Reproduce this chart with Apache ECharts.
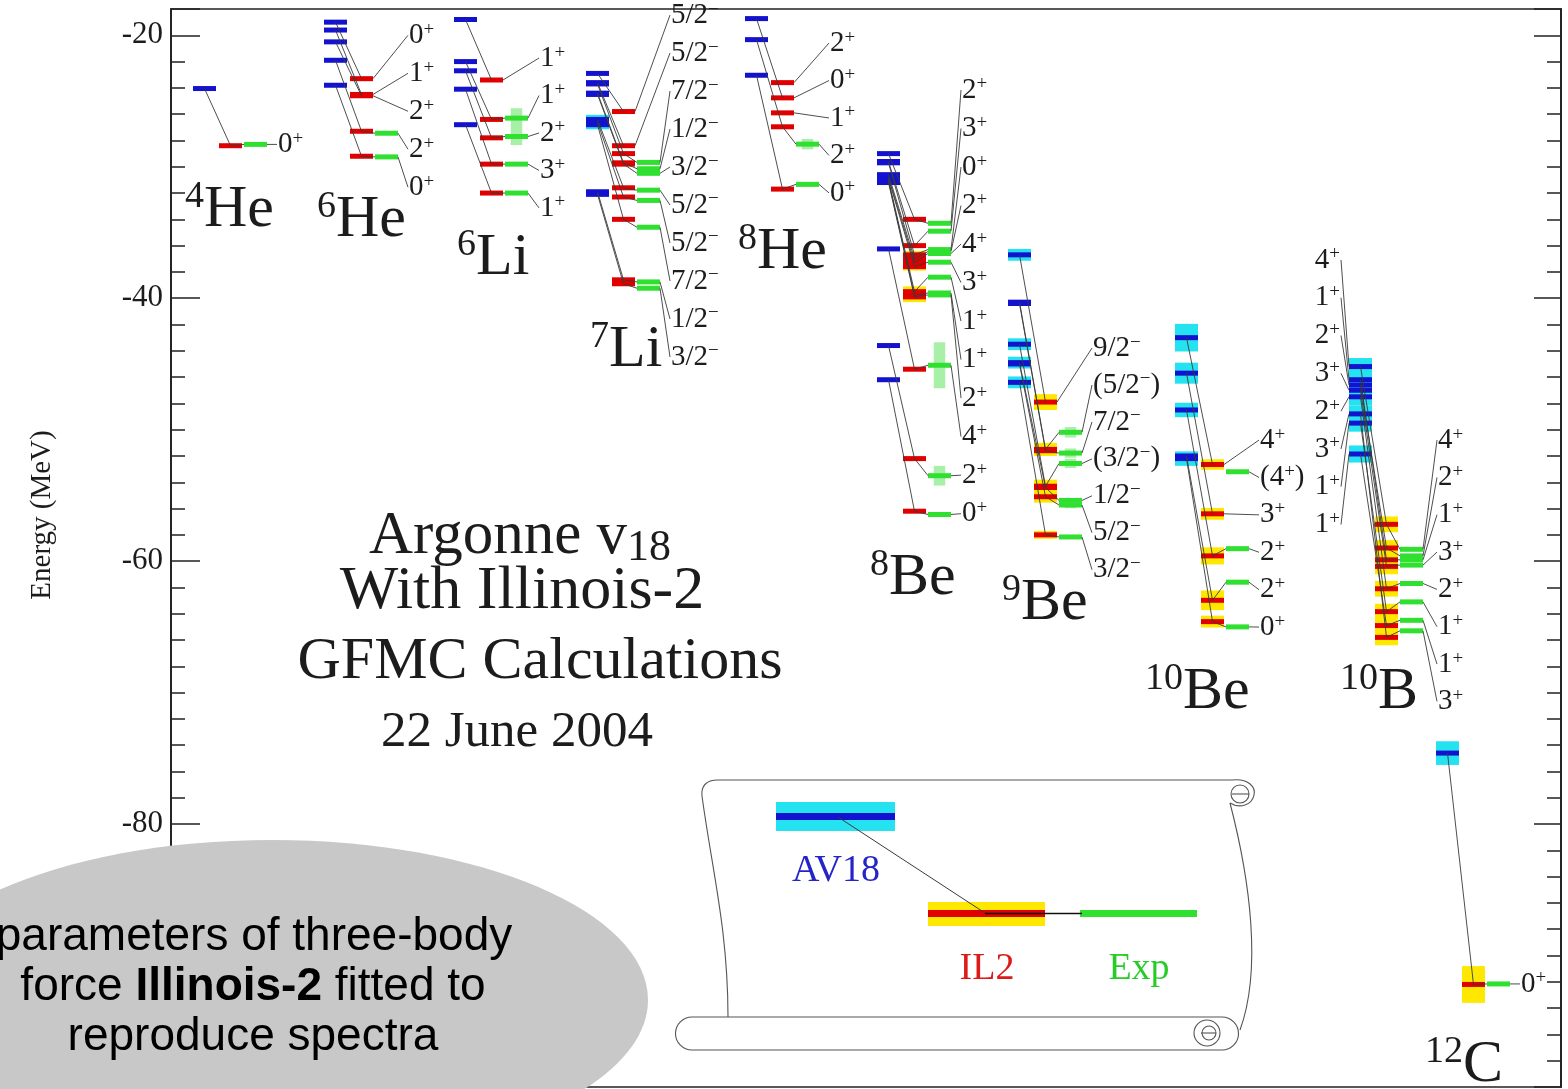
<!DOCTYPE html>
<html>
<head>
<meta charset="utf-8">
<title>Argonne v18 with Illinois-2 GFMC</title>
<script src="https://cdn.jsdelivr.net/npm/echarts@6/dist/echarts.min.js"></script>
<style>
html,body{margin:0;padding:0;background:#ffffff;}
#chart{width:1568px;height:1089px;}
</style>
</head>
<body>
<div id="chart"></div>
<script>
// ================= DATA (energies in MeV) =================
const nuclei = ['4He','6He','6Li','7Li','8He','8Be','9Be','10Be','10B','12C'];
const yMajorTicks = [-20, -40, -60, -80];

// 4He
const he4Labels = ['0+'];
const he4Av18 = [-24.05];
const he4Il2  = [-28.4];
const he4Exp  = [-28.3];

// 6He
const he6Labels = ['0+','1+','2+','2+','0+'];
const he6Av18 = [-19.0, -19.6, -20.5, -21.9, -23.8];
const he6Il2  = [-23.3, -24.5, -24.6, -27.3, -29.2];
const he6Exp  = [null, null, null, -27.45, -29.25];

// 6Li
const li6Labels = ['1+','1+','2+','3+','1+'];
const li6Av18 = [-18.8, -22.0, -22.7, -24.1, -26.8];
const li6Il2  = [-23.4, -26.4, -27.8, -29.8, -32.0];
const li6Exp  = [null, -26.3, -27.7, -29.8, -32.0];
const li6ExpWidth = [0, 1.5, 1.3, 0, 0];

// 7Li
const li7Labels = ['5/2−','5/2−','7/2−','1/2−','3/2−','5/2−','5/2−','7/2−','1/2−','3/2−'];
const li7Av18 = [-22.9, -23.6, -23.7, -24.4, -24.5, -26.4, -26.6, -26.8, -31.9, -32.1];
const li7Av18Err = [0, 0, 0, 0, 0, 0, 0.55, 0, 0, 0];
const li7Il2  = [-25.8, -28.4, -29.0, -29.7, -29.8, -31.6, -32.3, -34.0, -38.6, -38.9];
const li7Exp  = [null, null, -29.67, -30.15, -30.5, -31.78, -32.56, -34.6, -38.76, -39.24];

// 8He
const he8Labels = ['2+','0+','1+','2+','0+'];
const he8Av18 = [null, -18.73, null, -20.33, -23.04];
const he8Il2  = [-23.6, -24.76, -25.9, -26.96, -31.7];
const he8Exp  = [null, null, null, -28.28, -31.34];
const he8ExpWidth = [0, 0, 0, 0.8, 0];

// 8Be
const be8Labels = ['2+','3+','0+','2+','4+','3+','1+','1+','2+','4+','2+','0+'];
const be8Av18 = [-29.0, -29.6, -29.7, -30.6, -30.8, -30.9, -31.0, -31.1, -31.2, -36.25, -43.6, -46.2];
const be8Il2  = [-34.0, -36.0, -36.7, -37.0, -37.3, -37.6, -39.5, -39.8, -39.9, -45.4, -52.2, -56.2];
const be8Il2Err = [0, 0, 0.3, 0, 0, 0.3, 0.4, 0, 0.4, 0, 0, 0];
const be8Exp  = [-34.3, -34.9, -36.3, -36.45, -36.6, -37.26, -38.4, -39.6, -39.75, -45.1, -53.5, -56.45];
const be8ExpWidth = [0, 0, 0, 0, 0, 0, 0, 0, 0, 3.5, 1.5, 0];

// 9Be
const be9Labels = ['9/2−','(5/2−)','7/2−','(3/2−)','1/2−','5/2−','3/2−'];
const be9Av18 = [-36.7, -40.3, -40.4, -43.5, -44.9, -45.0, -46.4];
const be9Av18Err = [0.45, 0, 0, 0.45, 0.45, 0, 0.45];
const be9Il2  = [-47.9, -51.5, -51.6, -54.3, -54.4, -55.1, -58.0];
const be9Il2Err = [0.6, 0.5, 0, 0.5, 0, 0.45, 0.3];
const be9Exp  = [null, -50.2, -51.78, -52.57, -55.38, -55.73, -58.16];
const be9ExpWidth = [0, 0.8, 0.7, 0.7, 0, 0.5, 0];

// 10Be
const be10Labels = ['4+','(4+)','3+','2+','2+','0+'];
const be10Av18 = [-43.0, null, -45.7, -48.5, -52.0, -52.2];
const be10Av18Err = [1.05, 0, 0.8, 0.55, 0, 0.55];
const be10Il2  = [-52.65, null, -56.4, -59.6, -62.98, -64.6];
const be10Il2Err = [0.4, 0, 0.45, 0.65, 0.75, 0.45];
const be10Exp  = [null, -53.2, null, -59.05, -61.6, -65.0];

// 10B
const b10Labels = ['4+','2+','1+','3+','2+','1+','1+','3+'];
const b10Av18 = [-45.2, -46.6, -46.2, -47.0, -47.5, -49.5, -51.85, -48.8];
const b10Av18Err = [0.65, 0.65, 0.65, 0.65, 0.65, 0.65, 0.65, 0.65];
const b10Il2  = [-57.2, -59.0, -59.9, -60.4, -62.1, -63.84, -64.9, -65.8];
const b10Il2Err = [0.6, 0.6, 0.6, 0.6, 0.6, 0.6, 0.6, 0.6];
const b10Exp  = [-59.1, -59.6, -59.9, -60.3, -61.7, -63.1, -64.5, -65.3];

// 12C
const c12Labels = ['0+'];
const c12Av18 = [-74.6];
const c12Av18Err = [0.9];
const c12Il2  = [-92.2];
const c12Il2Err = [1.4];
const c12Exp  = [-92.16];

// ================= LAYOUT (positions only) =================
const colX        = [22, 153, 283, 415, 574, 706, 837, 1004, 1178, 1265]; // x of AV18 column (layout units)
const labelTopE   = [null, -20.0, -21.73, -18.46, -20.59, -24.16, -43.79, -50.79, -50.79, null];
const labelStepE  = [0, 2.89, 2.85, 2.89, 2.85, 2.93, 2.81, 2.845, 2.84, 0];
const labelDX     = [85, 85, 86, 85, 85, 85, 85, 85, 89, 85];
const leftLabelTopE = -37.09, leftLabelStepE = 2.875;  // 10B AV18 labels
const nameX       = [14, 146, 286, 419, 567, 699, 831, 974, 1169, 1254];
const nameCenterE = [-33.29, -34.05, -36.94, -43.94, -36.48, -61.28, -63.18, -69.95, -69.95, -98.33];

const C = {blue:'#1212cf', cyan:'#24e2f0', red:'#e00000', yellow:'#ffe800', green:'#30e030',
           pale:'#a8efa8', line:'#3a3a3a', text:'#1c1c1c', frame:'#222222'};
const SERIF = "'Liberation Serif','Times New Roman',serif";
const SANS = "'Liberation Sans',Arial,sans-serif";
const W = 23, DIL = 26, DEX = 51, BT = 5;

const NUC = [
  {labels:he4Labels, av:he4Av18, il:he4Il2, ex:he4Exp},
  {labels:he6Labels, av:he6Av18, il:he6Il2, ex:he6Exp},
  {labels:li6Labels, av:li6Av18, il:li6Il2, ex:li6Exp, exW:li6ExpWidth},
  {labels:li7Labels, av:li7Av18, il:li7Il2, ex:li7Exp, avErr:li7Av18Err},
  {labels:he8Labels, av:he8Av18, il:he8Il2, ex:he8Exp, exW:he8ExpWidth},
  {labels:be8Labels, av:be8Av18, il:be8Il2, ex:be8Exp, ilErr:be8Il2Err, exW:be8ExpWidth},
  {labels:be9Labels, av:be9Av18, il:be9Il2, ex:be9Exp, avErr:be9Av18Err, ilErr:be9Il2Err, exW:be9ExpWidth},
  {labels:be10Labels, av:be10Av18, il:be10Il2, ex:be10Exp, avErr:be10Av18Err, ilErr:be10Il2Err},
  {labels:b10Labels, av:b10Av18, il:b10Il2, ex:b10Exp, avErr:b10Av18Err, ilErr:b10Il2Err, leftLabels:true},
  {labels:c12Labels, av:c12Av18, il:c12Il2, ex:c12Exp, avErr:c12Av18Err, ilErr:c12Il2Err}
];

function richLabel(s){
  let out = '', buf = '';
  for (const ch of s) {
    if (ch === '+' || ch === '−') { if (buf) { out += '{n|' + buf + '}'; buf = ''; } out += '{s|' + ch + '}'; }
    else buf += ch;
  }
  if (buf) out += '{n|' + buf + '}';
  return out;
}
function richName(s){
  const m = s.match(/^(\d+)(.*)$/);
  return '{s|' + m[1] + '}{m|' + m[2] + '}';
}
const has = v => v !== null && v !== undefined;

const bands = [], bars = [], links = [], texts = [];
NUC.forEach((n, k) => {
  const x = colX[k];
  n.labels.forEach((lab, i) => {
    const av = n.av[i], il = n.il[i], ex = n.ex[i];
    if (has(av)) {
      if (n.avErr && n.avErr[i]) bands.push({x0:x, x1:x+W, e:av, h:n.avErr[i], c:C.cyan});
      bars.push({x0:x, x1:x+W, e:av, c:C.blue});
    }
    if (has(il)) {
      if (n.ilErr && n.ilErr[i]) bands.push({x0:x+DIL, x1:x+DIL+W, e:il, h:n.ilErr[i], c:C.yellow});
      bars.push({x0:x+DIL, x1:x+DIL+W, e:il, c:C.red});
    }
    if (has(ex)) {
      if (n.exW && n.exW[i]) bands.push({x0:x+DEX+W*0.25, x1:x+DEX+W*0.75, e:ex, h:n.exW[i]/2, c:C.pale});
      bars.push({x0:x+DEX, x1:x+DEX+W, e:ex, c:C.green});
    }
    if (has(av) && has(il)) links.push({xa:x+W/2, ea:av, xb:x+DIL+W/2, eb:il});
    if (has(il) && has(ex)) links.push({xa:x+DIL+W/2, ea:il, xb:x+DEX, eb:ex});
    const lastE = has(ex) ? ex : (has(il) ? il : av);
    const lastX = has(ex) ? x+DEX+W : (has(il) ? x+DIL+W : x+W);
    const labE = labelTopE[k] === null ? lastE : labelTopE[k] - i*labelStepE[k];
    const lx = x + labelDX[k];
    if (Math.abs(labE - lastE) > 0.05 || lx - lastX > 6) links.push({xa:lastX, ea:lastE, xb:lx-1, eb:labE});
    texts.push({x:lx, e:labE, t:richLabel(lab), align:'left', kind:'lab'});
  });
  if (n.leftLabels) {
    const order = n.av.map((v, i) => i).sort((a, b) => n.av[b] - n.av[a]);
    order.forEach((si, j) => {
      const e = leftLabelTopE - j*leftLabelStepE;
      links.push({xa:x-8, ea:e, xb:x, eb:n.av[si]});
      texts.push({x:x-9, e:e, t:richLabel(n.labels[si]), align:'right', kind:'lab'});
    });
  }
  texts.push({x:nameX[k], e:nameCenterE[k], t:richName(nuclei[k]), align:'left', kind:'name'});
});

// ================= CHART =================
const chart = echarts.init(document.getElementById('chart'), null, {renderer:'canvas', width:1568, height:1089});

function mkSeries(name, marks, z, render){
  return {type:'custom', name, z, clip:false, silent:true, animation:false,
    xAxisIndex:0, yAxisIndex:0, encode:{x:0, y:1},
    data: marks.map((m, i) => [has(m.x0) ? m.x0 : (has(m.x) ? m.x : m.xa), has(m.e) ? m.e : m.ea, i]),
    renderItem:(params, api) => render(marks[params.dataIndex], api)};
}

const labRich = {
  n:{fontSize:29, fontFamily:SERIF, lineHeight:30, fill:C.text},
  s:{fontSize:19, fontFamily:SERIF, lineHeight:18, verticalAlign:'top', fill:C.text}
};
const nameRich = {
  m:{fontSize:60, fontFamily:SERIF, lineHeight:64, fill:C.text},
  s:{fontSize:38, fontFamily:SERIF, lineHeight:30, verticalAlign:'top', fill:C.text}
};

const series = [
  mkSeries('bands', bands, 2, (m, api) => {
    const p0 = api.coord([m.x0, m.e + m.h]), p1 = api.coord([m.x1, m.e - m.h]);
    return {type:'rect', shape:{x:p0[0], y:p0[1], width:p1[0]-p0[0], height:p1[1]-p0[1]}, style:{fill:m.c}};
  }),
  mkSeries('bars', bars, 3, (m, api) => {
    const p0 = api.coord([m.x0, m.e]), p1 = api.coord([m.x1, m.e]);
    return {type:'rect', shape:{x:p0[0], y:p0[1]-BT/2, width:p1[0]-p0[0], height:BT}, style:{fill:m.c}};
  }),
  mkSeries('links', links, 4, (m, api) => {
    const a = api.coord([m.xa, m.ea]), b = api.coord([m.xb, m.eb]);
    return {type:'line', shape:{x1:a[0], y1:a[1], x2:b[0], y2:b[1]}, style:{stroke:C.line, lineWidth:0.9}};
  }),
  mkSeries('texts', texts, 5, (m, api) => {
    const p = api.coord([m.x, m.e]);
    return {type:'text', x:p[0], y:p[1], style:{text:m.t, rich: m.kind === 'name' ? nameRich : labRich,
      align:m.align, verticalAlign:'middle', fill:C.text}};
  })
];

const yBase = {type:'value', min:-100, max:-18, splitLine:{show:false}, minorSplitLine:{show:false},
  axisLine:{show:true, onZero:false, lineStyle:{color:C.frame, width:1.5}}};
const yAxes = [
  Object.assign({}, yBase, {position:'left', interval:20,
    axisTick:{show:true, inside:true, length:29, lineStyle:{color:C.frame, width:1.5}},
    axisLabel:{show:true, margin:8, fontSize:31, fontFamily:SERIF, color:C.text,
      formatter: v => yMajorTicks.indexOf(v) >= 0 ? String(v) : ''}}),
  Object.assign({}, yBase, {position:'left', interval:2,
    axisTick:{show:true, inside:true, length:14, lineStyle:{color:C.frame, width:1.5}}, axisLabel:{show:false}}),
  Object.assign({}, yBase, {position:'right', interval:20,
    axisTick:{show:true, inside:true, length:27, lineStyle:{color:C.frame, width:1.5}}, axisLabel:{show:false}}),
  Object.assign({}, yBase, {position:'right', interval:2,
    axisTick:{show:true, inside:true, length:14, lineStyle:{color:C.frame, width:1.5}}, axisLabel:{show:false}})
];

// scroll-shaped key
const sk = {stroke:'#555', lineWidth:1.1, fill:null};
const bz = (x1,y1,c1x,c1y,c2x,c2y,x2,y2) => ({type:'bezierCurve', z:40, shape:{x1,y1,cpx1:c1x,cpy1:c1y,cpx2:c2x,cpy2:c2y,x2,y2}, style:sk});
const ln = (x1,y1,x2,y2) => ({type:'line', z:40, shape:{x1,y1,x2,y2}, style:sk});
const graphic = [
  {type:'text', x:42, y:515, rotation:Math.PI/2, z:50,
    style:{text:'Energy (MeV)', font:'29px ' + SERIF, fill:C.text, align:'center', verticalAlign:'middle'}},
  {type:'text', x:520, y:538, z:50,
    style:{text:'{a|Argonne v}{b|18}', align:'center', verticalAlign:'middle', fill:C.text,
      rich:{a:{fontSize:61, fontFamily:SERIF, lineHeight:64, verticalAlign:'top'},
            b:{fontSize:44, fontFamily:SERIF, lineHeight:44, padding:[26,0,0,0], verticalAlign:'bottom'}}}},
  {type:'text', x:522, y:592, z:50, style:{text:'With Illinois-2', font:'62px ' + SERIF, fill:C.text, align:'center', verticalAlign:'middle'}},
  {type:'text', x:540, y:662, z:50, style:{text:'GFMC Calculations', font:'60px ' + SERIF, fill:C.text, align:'center', verticalAlign:'middle'}},
  {type:'text', x:517, y:733, z:50, style:{text:'22 June 2004', font:'51px ' + SERIF, fill:C.text, align:'center', verticalAlign:'middle'}},
  // scroll body
  ln(718, 780, 1232, 780),
  bz(1232, 780, 1248, 778, 1256, 787, 1254, 795),
  bz(1254, 795, 1252, 805, 1240, 809, 1230, 803),
  bz(1230, 803, 1250, 880, 1262, 970, 1240, 1030),
  bz(718, 780, 706, 780, 701, 786, 702, 796),
  bz(702, 796, 712, 870, 728, 930, 728, 1017),
  {type:'circle', z:40, shape:{cx:1240, cy:794, r:9}, style:sk},
  ln(1232, 794, 1249, 794),
  ln(692, 1017, 1222, 1017),
  ln(692, 1050, 1222, 1050),
  {type:'arc', z:40, shape:{cx:1222, cy:1033.5, r:16.5, startAngle:-Math.PI/2, endAngle:Math.PI/2, clockwise:true}, style:sk},
  {type:'arc', z:40, shape:{cx:692, cy:1033.5, r:16.5, startAngle:Math.PI/2, endAngle:Math.PI*1.5, clockwise:true}, style:sk},
  {type:'circle', z:40, shape:{cx:1207, cy:1033, r:13}, style:sk},
  {type:'circle', z:40, shape:{cx:1209, cy:1033, r:7}, style:sk},
  ln(1201, 1033, 1216, 1033),
  // key marks
  {type:'rect', z:41, shape:{x:776, y:802, width:119, height:29}, style:{fill:C.cyan}},
  {type:'rect', z:42, shape:{x:776, y:813, width:119, height:7}, style:{fill:C.blue}},
  {type:'rect', z:41, shape:{x:928, y:902, width:117, height:24}, style:{fill:C.yellow}},
  {type:'rect', z:42, shape:{x:928, y:910, width:117, height:7}, style:{fill:C.red}},
  {type:'rect', z:42, shape:{x:1080, y:910, width:117, height:7}, style:{fill:C.green}},
  {type:'line', z:43, shape:{x1:838, y1:817, x2:985, y2:913}, style:{stroke:C.line, lineWidth:1}},
  {type:'line', z:43, shape:{x1:985, y1:913.5, x2:1082, y2:913.5}, style:{stroke:'#111', lineWidth:1.5}},
  {type:'text', x:836, y:871, z:43, style:{text:'AV18', font:'38px ' + SERIF, fill:'#2424c8', align:'center', verticalAlign:'middle'}},
  {type:'text', x:987, y:969, z:43, style:{text:'IL2', font:'38px ' + SERIF, fill:'#dd1a1a', align:'center', verticalAlign:'middle'}},
  {type:'text', x:1139, y:969, z:43, style:{text:'Exp', font:'38px ' + SERIF, fill:'#28cc28', align:'center', verticalAlign:'middle'}},
  // grey note
  {type:'ellipse', z:60, shape:{cx:272, cy:1000, rx:376, ry:160}, style:{fill:'#c8c8c8'}},
  {type:'text', x:254, y:937, z:61, style:{text:'parameters of three-body', font:'46px ' + SANS, fill:'#000', align:'center', verticalAlign:'middle'}},
  {type:'text', x:253, y:987, z:61, style:{text:'{r|force }{b|Illinois-2}{r| fitted to}', align:'center', verticalAlign:'middle', fill:'#000',
    rich:{r:{fontSize:46, fontFamily:SANS}, b:{fontSize:46, fontFamily:SANS, fontWeight:'bold'}}}},
  {type:'text', x:253, y:1037, z:61, style:{text:'reproduce spectra', font:'46px ' + SANS, fill:'#000', align:'center', verticalAlign:'middle'}}
];

chart.setOption({
  animation:false,
  backgroundColor:'#ffffff',
  grid:{left:171, right:7, top:9, bottom:2, show:true, borderColor:C.frame, borderWidth:1.5, containLabel:false, outerBoundsMode:'none'},
  xAxis:{type:'value', min:0, max:1390, show:false},
  yAxis:yAxes,
  series:series,
  graphic:graphic
});
</script>
</body>
</html>
